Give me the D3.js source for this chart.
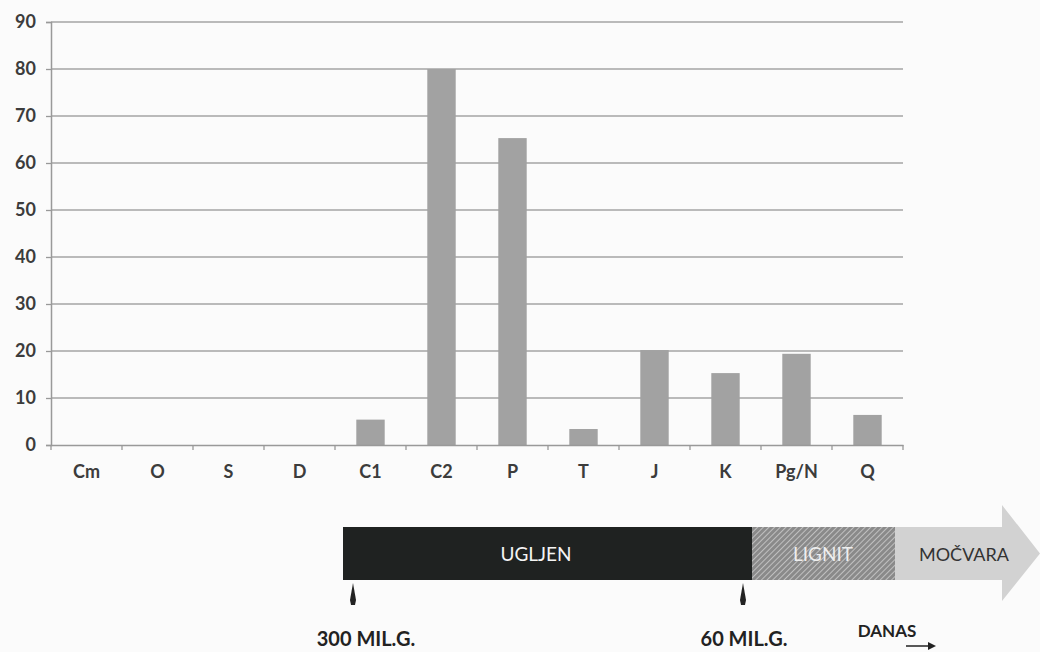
<!DOCTYPE html>
<html>
<head>
<meta charset="utf-8">
<script src="https://cdn.jsdelivr.net/npm/d3@7"></script>
<style>
  body { margin: 0; background: #fbfbfb; }
  text { font-family: "Lato", "Open Sans", sans-serif; }
</style>
</head>
<body>
<div id="chart"></div>
<script>
const categories = ["Cm", "O", "S", "D", "C1", "C2", "P", "T", "J", "K", "Pg/N", "Q"];
const values = [0, 0, 0, 0, 5.4, 80, 65.3, 3.4, 20.2, 15.3, 19.4, 6.4];
const yTicks = [0, 10, 20, 30, 40, 50, 60, 70, 80, 90];

const eraLabels = ["UGLJEN", "LIGNIT", "MOČVARA"];
const timeLabels = ["300 MIL.G.", "60 MIL.G.", "DANAS"];

const width = 1040;
const height = 652;
const margin = { top: 22, right: 137, bottom: 207, left: 51 };

const svg = d3.select("#chart")
  .append("svg")
  .attr("width", width)
  .attr("height", height);

svg.append("rect").attr("width", width).attr("height", height).attr("fill", "#fbfbfb");

const x = d3.scaleBand()
  .domain(categories)
  .range([margin.left, width - margin.right])
  .paddingInner(0.6)
  .paddingOuter(0.3);

const y = d3.scaleLinear()
  .domain([0, 90])
  .range([height - margin.bottom, margin.top]);

// gridlines
svg.append("g")
  .selectAll("line")
  .data(yTicks.slice(1))
  .enter()
  .append("line")
  .attr("x1", margin.left)
  .attr("x2", width - margin.right)
  .attr("y1", d => y(d))
  .attr("y2", d => y(d))
  .style("stroke", "#a4a4a4")
  .style("stroke-width", 1.3);

// bars
svg.append("g")
  .selectAll("rect")
  .data(values)
  .enter()
  .append("rect")
  .attr("x", (d, i) => x(categories[i]))
  .attr("y", d => y(d))
  .attr("width", x.bandwidth())
  .attr("height", d => y(0) - y(d))
  .style("fill", "#a2a2a2");

// y axis
const yAxis = svg.append("g")
  .attr("transform", `translate(${margin.left},0)`)
  .call(d3.axisLeft(y).tickValues(yTicks).tickSize(5).tickPadding(10));
yAxis.select(".domain").style("stroke", "#999").style("stroke-width", 1.5);
yAxis.selectAll(".tick line").style("stroke", "#999").style("stroke-width", 1.3);
yAxis.selectAll("text")
  .style("font-size", "18px")
  .style("font-weight", "bold")
  .style("fill", "#3c3c3c");

// x axis with ticks on band boundaries
const xAxis = svg.append("g")
  .attr("transform", `translate(0,${y(0)})`)
  .call(d3.axisBottom(x).tickSize(0).tickPadding(20));
xAxis.select(".domain").style("stroke", "#999").style("stroke-width", 1.5);
xAxis.selectAll("text")
  .style("font-size", "18px")
  .style("font-weight", "bold")
  .style("fill", "#3c3c3c");

const step = x.step();
const edges = d3.range(categories.length + 1).map(i => margin.left + i * step);
svg.append("g")
  .selectAll("line")
  .data(edges)
  .enter()
  .append("line")
  .attr("x1", d => d)
  .attr("x2", d => d)
  .attr("y1", y(0))
  .attr("y2", y(0) + 5)
  .style("stroke", "#999")
  .style("stroke-width", 1.3);

// timeline band
const defs = svg.append("defs");
const pat = defs.append("pattern")
  .attr("id", "hatch")
  .attr("width", 4)
  .attr("height", 4)
  .attr("patternUnits", "userSpaceOnUse")
  .attr("patternTransform", "rotate(45)");
pat.append("rect").attr("width", 4).attr("height", 4).attr("fill", "#8a8a8a");
pat.append("line").attr("x1", 0).attr("y1", 0).attr("x2", 0).attr("y2", 4)
  .style("stroke", "#c0c0c0").style("stroke-width", 2);

const bandTop = 527, bandBot = 580;
const bandMid = (bandTop + bandBot) / 2;

// MOČVARA arrow
svg.append("path")
  .attr("d", `M893,${bandTop} L1002,${bandTop} L1002,505 L1040,${bandMid} L1002,601 L1002,${bandBot} L893,${bandBot} Z`)
  .style("fill", "#d2d2d2");

svg.append("rect")
  .attr("x", 343).attr("y", bandTop)
  .attr("width", 752 - 343).attr("height", bandBot - bandTop)
  .style("fill", "#1f2221");

svg.append("rect")
  .attr("x", 752).attr("y", bandTop)
  .attr("width", 895 - 752).attr("height", bandBot - bandTop)
  .style("fill", "url(#hatch)");

const eraX = [536, 823, 964];
const eraFill = ["#f4f4f4", "#eeeeee", "#333"];
const eraSize = [19, 19, 18];
svg.append("g")
  .selectAll("text")
  .data(eraLabels)
  .enter()
  .append("text")
  .attr("x", (d, i) => eraX[i])
  .attr("y", bandMid + 7)
  .attr("text-anchor", "middle")
  .style("font-size", (d, i) => eraSize[i] + "px")
  .style("fill", (d, i) => eraFill[i])
  .text(d => d);

// small markers below band
const markX = [353, 743];
svg.append("g")
  .selectAll("path")
  .data(markX)
  .enter()
  .append("path")
  .attr("d", d => `M${d},583 L${d + 3},600 L${d + 2},605 L${d - 2},605 L${d - 3},600 Z`)
  .style("fill", "#222");

const timeX = [366, 744, 887];
const timeSize = [20, 20, 17];
const timeY = [646, 646, 637];
svg.append("g")
  .selectAll("text")
  .data(timeLabels)
  .enter()
  .append("text")
  .attr("x", (d, i) => timeX[i])
  .attr("y", (d, i) => timeY[i])
  .attr("text-anchor", "middle")
  .style("font-size", (d, i) => timeSize[i] + "px")
  .style("font-weight", "bold")
  .style("fill", "#222")
  .text(d => d);

// arrow under DANAS
svg.append("line")
  .attr("x1", 906).attr("x2", 930)
  .attr("y1", 646).attr("y2", 646)
  .style("stroke", "#222").style("stroke-width", 1.5);
svg.append("path")
  .attr("d", "M928,642 L936,646 L928,650 Z")
  .style("fill", "#222");
</script>
</body>
</html>
